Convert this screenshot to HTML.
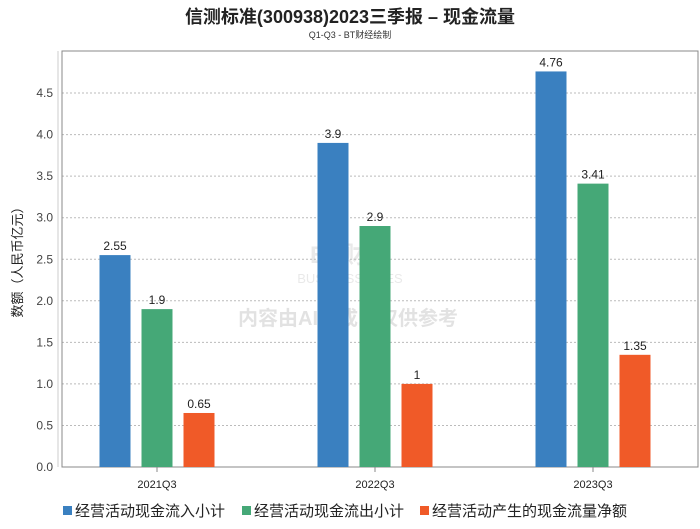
<!DOCTYPE html>
<html><head><meta charset="utf-8"><style>
body{margin:0;background:#fff;font-family:"Liberation Sans","Noto Sans CJK SC",sans-serif;}
</style></head><body>
<svg width="700" height="524" xmlns="http://www.w3.org/2000/svg" font-family="Liberation Sans, Noto Sans CJK SC, sans-serif">
<text x="350" y="23" text-anchor="middle" font-size="18" font-weight="bold" fill="#222">信测标准(300938)2023三季报 – 现金流量</text>
<text x="350" y="38" text-anchor="middle" font-size="9" fill="#333">Q1-Q3 - BT财经绘制</text>
<g opacity="0.18">
<text x="350" y="263" text-anchor="middle" font-size="24" font-weight="bold" fill="#888">BT财经</text>
<text x="350" y="283" text-anchor="middle" font-size="13" fill="#888">BUSINESSTIMES</text>
<text x="348" y="325" text-anchor="middle" font-size="20" font-weight="bold" fill="#666">内容由AI生成，仅供参考</text>
</g>
<g id="grid"></g>
<line x1="58" y1="51" x2="58" y2="467" stroke="#ccc"/>
<rect x="62" y="51" width="636" height="416" fill="none" stroke="#888"/>
<g id="bars"></g>
<text transform="translate(22,259) rotate(-90)" text-anchor="middle" font-size="13" fill="#222">数额（人民币亿元）</text>
<g id="legend" font-size="15" fill="#222">
<rect x="63" y="506" width="9" height="9" fill="#3a80c0"/>
<text x="75" y="516">经营活动现金流入小计</text>
<rect x="242" y="506" width="9" height="9" fill="#45a877"/>
<text x="254" y="516">经营活动现金流出小计</text>
<rect x="420" y="506" width="9" height="9" fill="#f05a28"/>
<text x="432" y="516">经营活动产生的现金流量净额</text>
</g>
</svg>
<script>
const categories=["2021Q3","2022Q3","2023Q3"];
const inflow=[2.55,3.9,4.76];
const outflow=[1.9,2.9,3.41];
const netflow=[0.65,1,1.35];
const yTicks=[0,0.5,1,1.5,2,2.5,3,3.5,4,4.5];
const NS="http://www.w3.org/2000/svg";
const y=v=>467-v*83.1;
const xc=i=>157+i*218;
const grid=document.getElementById('grid');
yTicks.forEach(t=>{
 if(t>0){const l=document.createElementNS(NS,'line');
 l.setAttribute('x1',62);l.setAttribute('x2',698);l.setAttribute('y1',y(t));l.setAttribute('y2',y(t));
 l.setAttribute('stroke','#bbb');l.setAttribute('stroke-dasharray','2,2');
 
 
 grid.appendChild(l);}
 const tx=document.createElementNS(NS,'text');
 tx.setAttribute('x',53);tx.setAttribute('y',y(t)+4);tx.setAttribute('text-anchor','end');
 tx.setAttribute('font-size','12');tx.setAttribute('fill','#444');
 tx.textContent=t.toFixed(1);
 
 
 grid.appendChild(tx);
});
const bars=document.getElementById('bars');
const series=[[inflow,'#3a80c0','inflow',-42],[outflow,'#45a877','outflow',0],[netflow,'#f05a28','net',42]];
categories.forEach((c,i)=>{
 const tk=document.createElementNS(NS,'line');
 tk.setAttribute('x1',xc(i));tk.setAttribute('x2',xc(i));tk.setAttribute('y1',467);tk.setAttribute('y2',472);tk.setAttribute('stroke','#888');
 
 
 bars.appendChild(tk);
 const lb=document.createElementNS(NS,'text');
 lb.setAttribute('x',xc(i));lb.setAttribute('y',488);lb.setAttribute('text-anchor','middle');lb.setAttribute('font-size','11');lb.setAttribute('fill','#222');
 lb.textContent=c;
 
 
 bars.appendChild(lb);
 series.forEach(([vals,col,nm,off])=>{
  const v=vals[i];
  const r=document.createElementNS(NS,'rect');
  r.setAttribute('x',xc(i)+off-15.5);r.setAttribute('width',31);
  r.setAttribute('y',y(v));r.setAttribute('height',467-y(v));r.setAttribute('fill',col);
  
  
  bars.appendChild(r);
  const t=document.createElementNS(NS,'text');
  t.setAttribute('x',xc(i)+off);t.setAttribute('y',y(v)-5);t.setAttribute('text-anchor','middle');t.setAttribute('font-size','12');t.setAttribute('fill','#222');
  t.textContent=String(v);
  
  
  bars.appendChild(t);
 });
});
</script>
</body></html>
